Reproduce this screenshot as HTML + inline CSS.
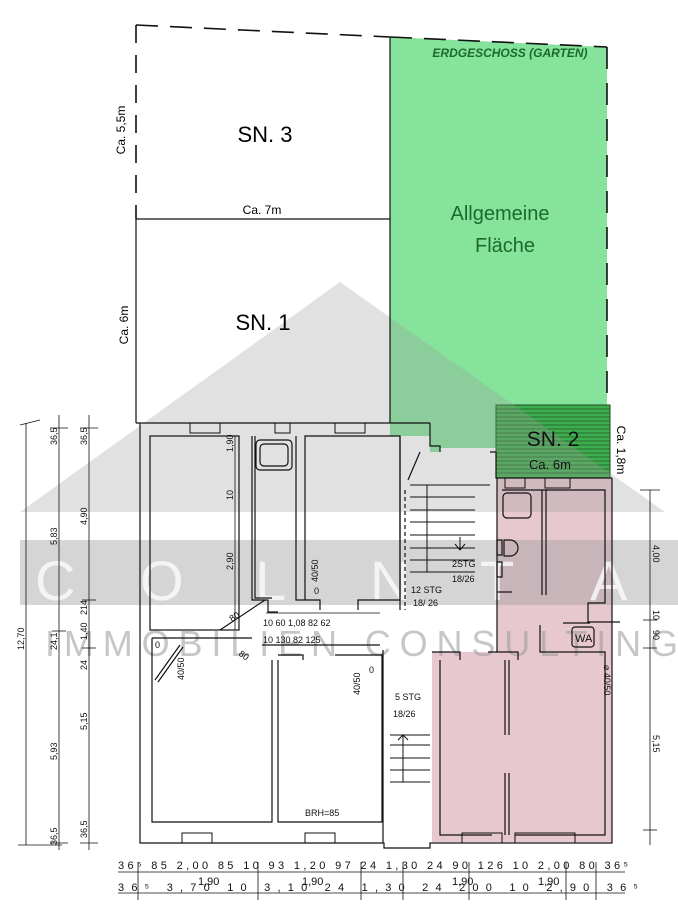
<!DOCTYPE html>
<html><head><meta charset="utf-8"><style>
html,body{margin:0;padding:0;background:#fff;width:678px;height:911px;overflow:hidden}
svg{display:block}
text{font-family:"Liberation Sans",sans-serif}
</style></head><body>
<svg width="678" height="911" viewBox="0 0 678 911" xmlns="http://www.w3.org/2000/svg">
<polygon points="390,37 607,47 607,405 496,405 496,448 440,448 440,452 430,452 430,436 390,436" fill="#86e39c"/>
<polygon points="497,478 612,478 612,842 432,842 432,652 497,652" fill="#e8c8cf"/>
<rect x="496" y="405" width="114" height="73" fill="#3fae4e" stroke="#1a4a1f" stroke-width="1"/>
<g stroke="#1e5a25" stroke-width="0.8">
<line x1="496" y1="409" x2="610" y2="409"/><line x1="496" y1="413" x2="610" y2="413"/><line x1="496" y1="417" x2="610" y2="417"/><line x1="496" y1="421" x2="610" y2="421"/><line x1="496" y1="425" x2="610" y2="425"/><line x1="496" y1="429" x2="610" y2="429"/><line x1="496" y1="433" x2="610" y2="433"/><line x1="496" y1="437" x2="610" y2="437"/><line x1="496" y1="441" x2="610" y2="441"/><line x1="496" y1="445" x2="610" y2="445"/><line x1="496" y1="449" x2="610" y2="449"/><line x1="496" y1="453" x2="610" y2="453"/><line x1="496" y1="457" x2="610" y2="457"/><line x1="496" y1="461" x2="610" y2="461"/><line x1="496" y1="465" x2="610" y2="465"/><line x1="496" y1="469" x2="610" y2="469"/><line x1="496" y1="473" x2="610" y2="473"/>
</g>
<polygon points="20,512 340,282 665,512" fill="#9a9a9a" opacity="0.3"/>
<rect x="20" y="540" width="658" height="65" fill="#9a9a9a" opacity="0.42"/>
<g fill="#fff" opacity="0.75" font-size="56" font-family="Liberation Sans,sans-serif">
<text x="35" y="600">C</text><text x="140" y="600">O</text><text x="255" y="600">L</text><text x="370" y="600">N</text><text x="480" y="600">T</text><text x="590" y="600">A</text>
</g>
<text x="45" y="656" font-size="36" fill="#999" opacity="0.55" textLength="633" lengthAdjust="spacing">IMMOBILIEN CONSULTING</text>
<g stroke="#111" stroke-width="1.6" fill="none">
<line x1="136" y1="25" x2="390" y2="37" stroke-dasharray="22,12"/>
<line x1="390" y1="37" x2="607" y2="47" stroke-dasharray="22,12"/>
<line x1="136" y1="25" x2="136" y2="219" stroke-dasharray="18,12"/>
<line x1="607" y1="47" x2="607" y2="405" stroke-dasharray="22,14"/>
<line x1="136" y1="219" x2="390" y2="219" stroke-width="1.2"/>
<line x1="136" y1="219" x2="136" y2="423" stroke-width="1.2"/>
<line x1="390" y1="37" x2="390" y2="423" stroke-width="1.2"/>
<line x1="136" y1="423" x2="390" y2="423" stroke-width="1.2"/>
</g>
<text x="265" y="142" font-size="22" text-anchor="middle">SN. 3</text>
<text x="262" y="214" font-size="12" text-anchor="middle">Ca. 7m</text>
<text x="263" y="330" font-size="22" text-anchor="middle">SN. 1</text>
<text transform="translate(125,130) rotate(-90)" font-size="12" text-anchor="middle">Ca. 5,5m</text>
<text transform="translate(128,325) rotate(-90)" font-size="12" text-anchor="middle">Ca. 6m</text>
<text x="510" y="57" font-size="12" font-style="italic" font-weight="bold" font-family="Liberation Serif,serif" fill="#1b6b2b" text-anchor="middle">ERDGESCHOSS (GARTEN)</text>
<text x="500" y="220" font-size="20" fill="#1b6b2b" text-anchor="middle">Allgemeine</text>
<text x="505" y="252" font-size="20" fill="#1b6b2b" text-anchor="middle">Fläche</text>
<text x="553" y="446" font-size="21" fill="#111" text-anchor="middle">SN. 2</text>
<text x="550" y="469" font-size="13" fill="#111" text-anchor="middle">Ca. 6m</text>
<text transform="translate(617,450) rotate(90)" font-size="12" text-anchor="middle">Ca. 1,8m</text>
<g stroke="#111" stroke-width="1.2" fill="none">
<polyline points="140,423 140,843 384,843 384,848 430,848 430,843 612,843 612,478"/>
<line x1="390" y1="423" x2="430" y2="423"/>
<polyline points="430,423 430,446 440,446 440,452"/>
<polyline points="490,452 496,452 496,478 612,478"/>
<rect x="150" y="436" width="89" height="194"/>
<polyline points="252,436 252,600 268,600 268,612 278,612"/>
<polyline points="255,436 255,598 272,598"/>
<rect x="256" y="440" width="36" height="30" rx="4"/>
<rect x="260" y="444" width="28" height="22" rx="4"/>
<polyline points="296,436 296,600 320,600 320,610"/>
<polyline points="305,600 305,436 400,436 400,600 358,600 358,610"/>
<line x1="400" y1="436" x2="400" y2="610"/>
<line x1="405" y1="490" x2="405" y2="610" stroke-dasharray="4,3"/>
<polyline points="152,638 252,638"/>
<polyline points="152,638 152,822 272,822 272,660"/>
<polyline points="278,655 303,655 303,660"/>
<polyline points="278,660 278,822 382,822 382,655 335,655"/>
<polyline points="383,650 383,843"/>
<polyline points="432,652 460,652 460,660"/>
<polyline points="440,660 440,835 492,835"/>
<polyline points="488,652 518,652 518,660"/>
<line x1="505" y1="660" x2="505" y2="735"/>
<line x1="509" y1="660" x2="509" y2="735"/>
<line x1="505" y1="773" x2="505" y2="835"/>
<line x1="509" y1="773" x2="509" y2="835"/>
<polyline points="515,835 605,835 605,652 540,652 540,625"/>
<polyline points="497,478 497,652"/>
<polyline points="502,490 605,490 605,603 588,603 588,622 620,622"/>
<line x1="542" y1="490" x2="542" y2="595"/>
<line x1="546" y1="490" x2="546" y2="595"/>
<rect x="503" y="493" width="28" height="25" rx="4"/>
<rect x="572" y="627" width="22" height="20" rx="3"/>
<line x1="563" y1="623" x2="590" y2="623"/>
<rect x="497" y="540" width="5" height="15"/>
<path d="M504,540 h6 a8,8 0 0 1 0,16 h-6 z"/>
<rect x="497" y="562" width="5" height="15"/>
<line x1="497" y1="592" x2="512" y2="592"/>
<g stroke-width="1">
<line x1="410" y1="485" x2="490" y2="485"/><line x1="410" y1="497" x2="475" y2="497"/><line x1="410" y1="510" x2="475" y2="510"/><line x1="410" y1="522" x2="475" y2="522"/><line x1="410" y1="535" x2="475" y2="535"/><line x1="410" y1="548" x2="475" y2="548"/><line x1="410" y1="560" x2="475" y2="560"/><line x1="410" y1="572" x2="475" y2="572"/>
<line x1="427" y1="485" x2="427" y2="572"/>
<line x1="390" y1="735" x2="430" y2="735"/><line x1="390" y1="745" x2="430" y2="745"/><line x1="390" y1="758" x2="430" y2="758"/><line x1="390" y1="770" x2="430" y2="770"/><line x1="390" y1="782" x2="430" y2="782"/>
<line x1="403" y1="735" x2="403" y2="782"/>
<polyline points="398,740 403,735 408,740"/>
<line x1="460" y1="537" x2="460" y2="550"/><polyline points="455,544 460,550 465,544"/>
</g>
<g stroke-width="1">
<rect x="190" y="423" width="30" height="10"/><rect x="275" y="423" width="15" height="10"/><rect x="335" y="423" width="30" height="10"/>
<rect x="182" y="833" width="30" height="10"/><rect x="305" y="833" width="30" height="10"/><rect x="462" y="833" width="40" height="10"/><rect x="515" y="833" width="60" height="10"/>
<rect x="505" y="478" width="20" height="10"/><rect x="545" y="478" width="25" height="10"/>
</g>
<line x1="220" y1="630" x2="265" y2="600"/>
<line x1="155" y1="680" x2="180" y2="645"/><line x1="158" y1="682" x2="183" y2="647"/>
<line x1="408" y1="480" x2="420" y2="452"/>
<line x1="235" y1="436" x2="235" y2="630" stroke-width="0.8"/>
<line x1="266" y1="613" x2="380" y2="613" stroke-width="0.8"/>
<line x1="262" y1="645" x2="380" y2="645" stroke-width="1.2"/>
</g>
<g font-size="9" fill="#111" font-family="Liberation Mono,monospace">
<text transform="translate(233,452) rotate(-90)">1,90</text>
<text transform="translate(233,500) rotate(-90)">10</text>
<text transform="translate(233,570) rotate(-90)">2,90</text>
<text transform="translate(318,582) rotate(-90)">40/50</text>
<text x="314" y="594">0</text>
<text x="263" y="626">10 60  1,08  82  62</text>
<text x="263" y="643">10 130  82  125</text>
<text x="155" y="648">0</text>
<text transform="translate(184,680) rotate(-90)">40/50</text>
<text transform="translate(360,695) rotate(-90)">40/50</text>
<text x="369" y="673">0</text>
<text x="395" y="700">5 STG</text><text x="393" y="717">18/26</text>
<text x="411" y="593">12 STG</text><text x="413" y="606">18/ 26</text>
<text x="452" y="567">2STG</text><text x="452" y="582">18/26</text>
<text x="305" y="816">BRH=85</text>
<text x="575" y="642" font-family="Liberation Sans,sans-serif" font-size="11">WA</text>
<text transform="translate(604,665) rotate(90)">⌀ 40/50</text>
<text transform="translate(232,622) rotate(-35)">80</text>
<text transform="translate(238,655) rotate(35)">80</text>
</g>
<g stroke="#111" stroke-width="0.8">
<line x1="26" y1="423" x2="26" y2="845"/><line x1="18" y1="845" x2="62" y2="845"/><line x1="20" y1="425" x2="40" y2="420"/>
<line x1="59" y1="415" x2="59" y2="850"/><line x1="89" y1="415" x2="89" y2="850"/>
<line x1="50" y1="428" x2="68" y2="428"/><line x1="80" y1="428" x2="98" y2="428"/>
<line x1="52" y1="631" x2="66" y2="631"/><line x1="82" y1="600" x2="96" y2="600"/><line x1="82" y1="648" x2="96" y2="648"/>
<line x1="50" y1="843" x2="68" y2="843"/><line x1="80" y1="843" x2="98" y2="843"/>
<line x1="650" y1="490" x2="650" y2="845"/><line x1="640" y1="490" x2="660" y2="490"/><line x1="643" y1="620" x2="657" y2="620"/><line x1="643" y1="648" x2="657" y2="648"/><line x1="643" y1="830" x2="657" y2="830"/>
<line x1="118" y1="872" x2="625" y2="872"/><line x1="118" y1="893" x2="625" y2="893"/>
<line x1="138" y1="862" x2="138" y2="900"/><line x1="258" y1="862" x2="258" y2="900"/><line x1="361" y1="862" x2="361" y2="900"/><line x1="403" y1="862" x2="403" y2="900"/><line x1="469" y1="862" x2="469" y2="900"/><line x1="566" y1="862" x2="566" y2="900"/><line x1="596" y1="862" x2="596" y2="900"/>
</g>
<g font-size="9" fill="#111" font-family="Liberation Mono,monospace">
<text transform="translate(24,650) rotate(-90)">12,70</text>
<text transform="translate(57,445) rotate(-90)">36,5</text>
<text transform="translate(57,545) rotate(-90)">5,83</text>
<text transform="translate(57,650) rotate(-90)">24,1</text>
<text transform="translate(57,760) rotate(-90)">5,93</text>
<text transform="translate(57,845) rotate(-90)">36,5</text>
<text transform="translate(87,445) rotate(-90)">36,5</text>
<text transform="translate(87,525) rotate(-90)">4,90</text>
<text transform="translate(87,615) rotate(-90)">214</text>
<text transform="translate(87,640) rotate(-90)">1,40</text>
<text transform="translate(87,670) rotate(-90)">24</text>
<text transform="translate(87,730) rotate(-90)">5,15</text>
<text transform="translate(87,838) rotate(-90)">36,5</text>
<text transform="translate(653,545) rotate(90)">4,00</text>
<text transform="translate(653,610) rotate(90)">10</text>
<text transform="translate(653,630) rotate(90)">90</text>
<text transform="translate(653,735) rotate(90)">5,15</text>
</g>
<g font-size="11" fill="#111" font-family="Liberation Mono,monospace">
<text x="118" y="869" textLength="510" lengthAdjust="spacing">36⁵  85   2,00   85 10 93  1,20  97 24 1,30 24 90 126 10  2,00   80 36⁵</text>
<text x="198" y="885">1,90</text><text x="302" y="885">1,90</text><text x="452" y="885">1,90</text><text x="538" y="885">1,90</text>
<text x="118" y="891" textLength="520" lengthAdjust="spacing">36⁵  3,70          10      3,10    24 1,30 24  200 10   2,90      36⁵</text>
</g>
</svg>
</body></html>
